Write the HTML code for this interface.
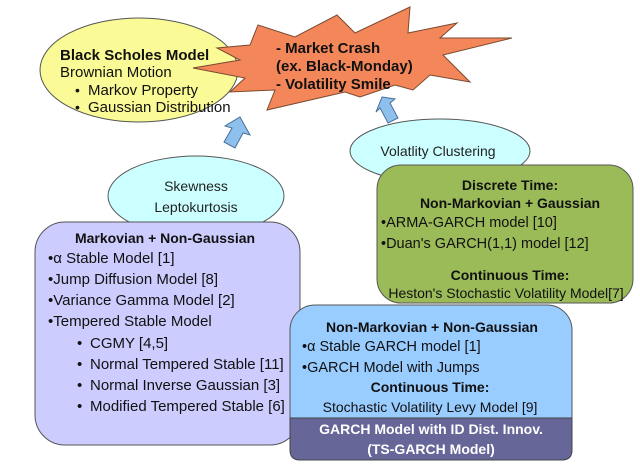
<!DOCTYPE html>
<html><head><meta charset="utf-8"><style>
html,body{margin:0;padding:0;background:#fff;}
svg{display:block;font-family:"Liberation Sans",sans-serif;}
.b{font-weight:bold;}
</style></head><body>
<svg width="640" height="468" viewBox="0 0 640 468" xmlns="http://www.w3.org/2000/svg">
<ellipse cx="139" cy="70" rx="99" ry="52" fill="#FAFA96" stroke="#555" stroke-width="1"/>
<text x="60" y="60" font-size="15" class="b" fill="#111">Black Scholes Model</text>
<text x="60" y="77" font-size="15" fill="#111">Brownian Motion</text>
<text x="75" y="95" font-size="14" fill="#111">•</text>
<text x="88" y="95" font-size="15" fill="#111">Markov Property</text>
<text x="75" y="112" font-size="14" fill="#111">•</text>
<text x="88" y="112" font-size="15" fill="#111">Gaussian Distribution</text>
<polygon points="193,68 240,60 217,48 250,45 258,25 295,37 337,15 355,33 410,7 408,33 457,23 440,38 512,38 443,55 470,82 430,75 413,90 395,85 360,97 345,92 267,110 275,90 230,92 245,78" fill="#F4875A" stroke="#7a4a30" stroke-width="1"/>
<text x="276" y="53" font-size="15" class="b" fill="#111">- Market Crash</text>
<text x="276" y="71" font-size="15" class="b" fill="#111">(ex. Black-Monday)</text>
<text x="276" y="89" font-size="15" class="b" fill="#111">- Volatility Smile</text>
<polygon points="240,117 250,135 243,133 235,148 224,142 232,128 225,126" fill="#8EC0EE" stroke="#4a6f99" stroke-width="1"/>
<polygon points="382,97 395,99 390,103 398,118 388,123 380,108 376,112" fill="#8EC0EE" stroke="#4a6f99" stroke-width="1"/>
<ellipse cx="196" cy="196" rx="88" ry="40" fill="#CCFFFF" stroke="#555" stroke-width="1"/>
<text x="196" y="191" font-size="14" text-anchor="middle" fill="#222">Skewness</text>
<text x="196" y="212" font-size="14" text-anchor="middle" fill="#222">Leptokurtosis</text>
<ellipse cx="440" cy="151" rx="90" ry="32" fill="#CCFFFF" stroke="#555" stroke-width="1"/>
<text x="438" y="156" font-size="14" text-anchor="middle" fill="#222">Volatlity Clustering</text>
<rect x="377" y="165" width="256" height="138" rx="24" fill="#9BBB59" stroke="#555" stroke-width="1"/>
<text x="510" y="190" font-size="14" class="b" text-anchor="middle" fill="#111">Discrete Time:</text>
<text x="510" y="208" font-size="14" class="b" text-anchor="middle" fill="#111">Non-Markovian + Gaussian</text>
<text x="381" y="227" font-size="14.5" fill="#111">•ARMA-GARCH model [10]</text>
<text x="381" y="248" font-size="14.5" fill="#111">•Duan's GARCH(1,1) model [12]</text>
<text x="510" y="280" font-size="14" class="b" text-anchor="middle" fill="#111">Continuous Time:</text>
<text x="506" y="298" font-size="14" text-anchor="middle" fill="#111">Heston's Stochastic Volatility Model[7]</text>
<rect x="35" y="222" width="265" height="223" rx="30" fill="#CCCCFF" stroke="#555" stroke-width="1"/>
<text x="165" y="243" font-size="14" class="b" text-anchor="middle" fill="#111">Markovian + Non-Gaussian</text>
<g font-size="15" fill="#111">
<text x="48" y="263">•α Stable Model [1]</text>
<text x="48" y="284">•Jump Diffusion Model [8]</text>
<text x="48" y="305">•Variance Gamma Model [2]</text>
<text x="48" y="326">•Tempered Stable Model</text>
<text x="77" y="348">•</text><text x="90" y="348">CGMY [4,5]</text>
<text x="77" y="369">•</text><text x="90" y="369">Normal Tempered Stable [11]</text>
<text x="77" y="390">•</text><text x="90" y="390">Normal Inverse Gaussian [3]</text>
<text x="77" y="411">•</text><text x="90" y="411">Modified Tempered Stable [6]</text>
</g>
<rect x="290" y="305" width="282" height="155" rx="25" fill="#99CCFF" stroke="#555" stroke-width="1"/>
<path d="M290,418 L572,418 L572,450 Q572,460 562,460 L300,460 Q290,460 290,450 Z" fill="#666699" stroke="#444" stroke-width="1"/>
<text x="432" y="332" font-size="14" class="b" text-anchor="middle" fill="#111">Non-Markovian + Non-Gaussian</text>
<text x="302" y="351" font-size="14.5" fill="#111">•α Stable GARCH model [1]</text>
<text x="302" y="372" font-size="14.5" fill="#111">•GARCH Model with Jumps</text>
<text x="430" y="392" font-size="14" class="b" text-anchor="middle" fill="#111">Continuous Time:</text>
<text x="430" y="412" font-size="14" text-anchor="middle" fill="#111">Stochastic Volatility Levy Model [9]</text>
<text x="431" y="434" font-size="14" class="b" text-anchor="middle" fill="#fff">GARCH Model with ID Dist. Innov.</text>
<text x="431" y="454" font-size="14" class="b" text-anchor="middle" fill="#fff">(TS-GARCH Model)</text>
</svg>
</body></html>
